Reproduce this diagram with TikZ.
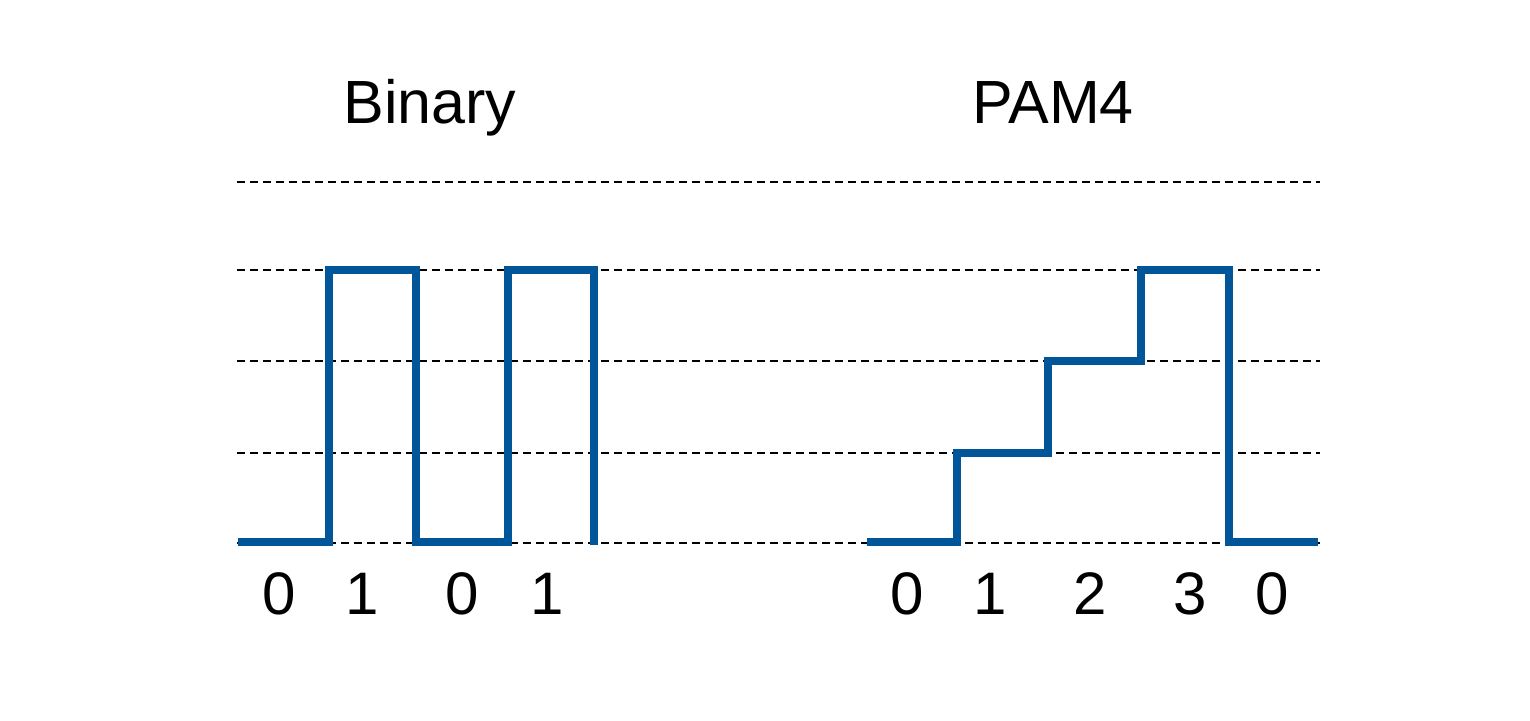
\documentclass[tikz,border=0pt]{standalone}
\usepackage{fontspec}
\setmainfont{Liberation Sans}
\definecolor{wave}{RGB}{0,86,153}
\tikzset{
  level/.style={densely dashed, line width=1pt, dash pattern=on 4pt off 2.5pt},
  signal/.style={wave, line width=4.3pt, line join=miter},
  title/.style={anchor=base, font=\fontsize{30.5}{35}\selectfont},
  symbol/.style={anchor=base, font=\fontsize{30}{34}\selectfont}
}
\begin{document}
\begin{tikzpicture}[x=0.5pt,y=-0.5pt]
  \useasboundingbox (0,0) rectangle (1530,720);
  % reference levels
  \foreach \y in {182,270,361,453,543}
    \draw[level] (237,\y) -- (1320,\y);
  % titles
  \node[title] (binary) at (430,123) {Binary};
  \node[title] (pam) at (1053,123) {PAM4};
  % binary waveform
  \draw[signal] (238,542) -- (329,542) -- (329,270) -- (416,270) -- (416,542)
    -- (508,542) -- (508,270) -- (594,270) -- (594,545);
  % pam4 waveform
  \draw[signal] (867,542) -- (957,542) -- (957,453) -- (1048,453) -- (1048,361)
    -- (1141,361) -- (1141,270) -- (1229,270) -- (1229,542) -- (1318,542);
  % symbols
  \node[symbol] (b0) at (279,614) {0};
  \node[symbol] (b1) at (362,614) {1};
  \node[symbol] (b2) at (462,614) {0};
  \node[symbol] (b3) at (547,614) {1};
  \node[symbol] (p0) at (907,614) {0};
  \node[symbol] (p1) at (990,614) {1};
  \node[symbol] (p2) at (1090,614) {2};
  \node[symbol] (p3) at (1190,614) {3};
  \node[symbol] (p4) at (1272,614) {0};
\end{tikzpicture}
\end{document}
